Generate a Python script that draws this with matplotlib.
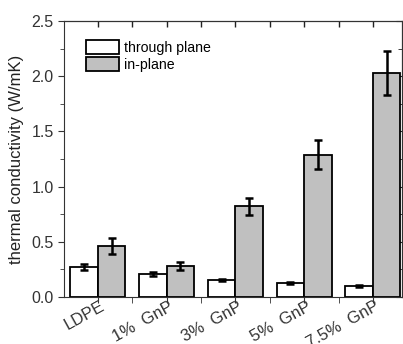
import numpy as np
import matplotlib.pyplot as plt
import matplotlib.transforms as mtransforms
from matplotlib.ticker import MultipleLocator

plt.rcParams['font.family'] = ['Liberation Sans', 'DejaVu Sans']

samples = ['LDPE', '1%  GnP', '3%  GnP', '5%  GnP', '7.5%  GnP']
through_plane = [0.27, 0.205, 0.155, 0.125, 0.10]
through_err = [0.03, 0.02, 0.01, 0.01, 0.01]
in_plane = [0.46, 0.28, 0.82, 1.29, 2.03]
in_err = [0.07, 0.035, 0.08, 0.13, 0.20]

fig = plt.figure(figsize=(4.03, 3.44), dpi=100)
ax = fig.add_axes([0.159, 0.137, 0.838, 0.802])

x = np.arange(len(samples))
w = 0.40
ek = dict(ecolor='black', elinewidth=1.8, capsize=3, capthick=1.8)
ax.bar(x - w / 2, through_plane, w, yerr=through_err, color='white',
       edgecolor='black', linewidth=1.3, label='through plane', error_kw=ek)
ax.bar(x + w / 2, in_plane, w, yerr=in_err, color='#c0c0c0',
       edgecolor='black', linewidth=1.3, label='in-plane', error_kw=ek)

ax.set_xlim(-0.49, 4.42)
ax.set_ylim(0, 2.5)
ax.set_xticks(x)
ax.set_xticklabels([])
# rotated category labels, anchored just below each tick
offset = mtransforms.ScaledTranslation(2 / 100, -2 / 100, fig.dpi_scale_trans)
for xi, name in zip(x, samples):
    ax.text(xi, 0, name, transform=ax.get_xaxis_transform() + offset,
            rotation=29, ha='right', va='top', rotation_mode='anchor',
            fontsize=12, color='#333333', clip_on=False)

ax.xaxis.set_minor_locator(MultipleLocator(0.5))
ax.yaxis.set_major_locator(MultipleLocator(0.5))
ax.yaxis.set_minor_locator(MultipleLocator(0.25))
ax.tick_params(which='both', direction='out', colors='#333333',
               labelcolor='#333333')
ax.tick_params(axis='y', labelsize=11.5)
ax.tick_params(which='major', length=4)
ax.tick_params(which='minor', length=3)
ax.tick_params(axis='x', which='minor', length=4)

# inward ticks on top and right
top = ax.secondary_xaxis('top')
top.set_xticks(x)
top.xaxis.set_minor_locator(MultipleLocator(0.5))
top.tick_params(which='both', direction='in', length=4, width=1,
                labeltop=False, colors='#222222')
right = ax.secondary_yaxis('right')
right.yaxis.set_major_locator(MultipleLocator(0.5))
right.yaxis.set_minor_locator(MultipleLocator(0.25))
right.tick_params(which='both', direction='in', labelright=False,
                  colors='#222222')
right.tick_params(which='major', length=4)
right.tick_params(which='minor', length=3)

for s in ax.spines.values():
    s.set_color('#333333')
ax.set_ylabel('thermal conductivity (W/mK)', fontsize=12, color='#222222',
              labelpad=5)

ax.legend(loc='upper left', frameon=False, fontsize=10.2, handlelength=2.3,
          handleheight=1.1, borderaxespad=0, borderpad=0, handletextpad=0.35,
          labelspacing=0.2, bbox_to_anchor=(22 / 338, 1 - 19 / 276))

fig.savefig('out.png', dpi=100)
